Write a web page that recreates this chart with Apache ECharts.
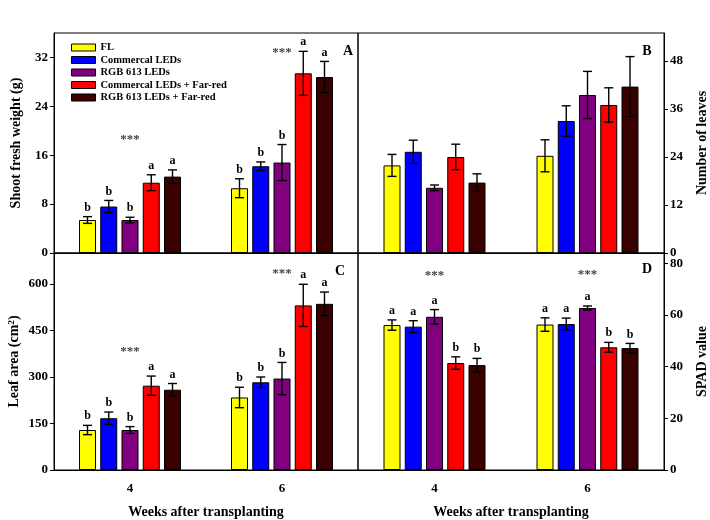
<!DOCTYPE html>
<html>
<head>
<meta charset="utf-8">
<script src="https://cdn.jsdelivr.net/npm/echarts@6/dist/echarts.min.js"></script>
<style>html,body{margin:0;padding:0;background:#fff;}#c{width:710px;height:520px;}</style>
</head>
<body>
<div id="c"></div>
<script>
const weeks = ['4', '6'];
const treatments = ['FL', 'Commercal LEDs', 'RGB 613 LEDs', 'Commercal LEDs + Far-red', 'RGB 613 LEDs + Far-red'];
const colors = ['#ffff00', '#0000ff', '#800080', '#ff0000', '#3a0000'];

// Panel A: shoot fresh weight (g) — rows: treatment, cols: week 4, week 6
const fwMean = [[5.4, 10.6], [7.6, 14.2], [5.4, 14.8], [11.5, 29.4], [12.5, 28.8]];
const fwErr = [[0.55, 1.55], [1.0, 0.7], [0.45, 2.95], [1.3, 3.6], [1.1, 2.55]];
const fwLetters = [['b', 'b'], ['b', 'b'], ['b', 'b'], ['a', 'a'], ['a', 'a']];
const fwStars = [18.6, 32.8];
const fwTicks = [0, 8, 16, 24, 32];

// Panel B: number of leaves
const nlMean = [[21.9, 24.3], [25.3, 33.0], [16.3, 39.5], [24.0, 37.0], [17.6, 41.6]];
const nlErr = [[2.75, 4.0], [2.9, 3.8], [0.7, 5.9], [3.2, 4.3], [2.2, 7.5]];
const nlTicks = [0, 12, 24, 36, 48];

// Panel C: leaf area (cm2)
const laMean = [[129, 234], [167, 283], [129, 295], [272, 531], [259, 536]];
const laErr = [[15, 33], [20, 17], [11, 52], [31, 68], [20, 38]];
const laLetters = [['b', 'b'], ['b', 'b'], ['b', 'b'], ['a', 'a'], ['a', 'a']];
const laStars = [382, 635];
const laTicks = [0, 150, 300, 450, 600];

// Panel D: SPAD value
const spMean = [[56.1, 56.3], [55.5, 56.5], [59.3, 62.7], [41.4, 47.5], [40.6, 47.2]];
const spErr = [[2.0, 2.6], [2.3, 2.3], [2.8, 0.8], [2.4, 1.9], [2.6, 1.8]];
const spLetters = [['a', 'a'], ['a', 'a'], ['a', 'a'], ['b', 'b'], ['b', 'b']];
const spStars = [75.3, 75.5];
const spTicks = [0, 20, 40, 60, 80];

const FONT = '"Liberation Serif", "Times New Roman", serif';
const BAR_W = 17, BAR_GAP = 0.25, BAR_STEP = BAR_W * (1 + BAR_GAP);

const panels = [
  {mean: fwMean, err: fwErr, letters: fwLetters, stars: fwStars, ticks: fwTicks, max: 36, pos: 'left',
   name: 'Shoot fresh weight (g)', label: 'A'},
  {mean: nlMean, err: nlErr, letters: null, stars: null, ticks: nlTicks, max: 55, pos: 'right',
   name: 'Number of leaves', label: 'B'},
  {mean: laMean, err: laErr, letters: laLetters, stars: laStars, ticks: laTicks, max: 700, pos: 'left',
   name: 'Leaf area (cm{sup|2})', label: 'C'},
  {mean: spMean, err: spErr, letters: spLetters, stars: spStars, ticks: spTicks, max: 84, pos: 'right',
   name: 'SPAD value', label: 'D'}
];

const grids = [
  {left: 54, top: 33, width: 304, height: 220},
  {left: 358, top: 33, width: 307, height: 220},
  {left: 54, top: 253, width: 304, height: 220},
  {left: 358, top: 253, width: 307, height: 220}
].map(g => Object.assign(g, {show: true, borderColor: '#000', borderWidth: 1, backgroundColor: 'transparent'}));

const xAxes = grids.map((g, p) => ({
  type: 'category', gridIndex: p, data: weeks,
  axisLine: {show: true, lineStyle: {color: '#000', width: 1}},
  axisTick: {show: false},
  axisLabel: {show: p >= 2, color: '#000', fontFamily: FONT, fontWeight: 'bold', fontSize: 13, margin: 12},
  name: p >= 2 ? 'Weeks after transplanting' : '',
  nameLocation: 'middle', nameGap: 35,
  nameTextStyle: {color: '#000', fontFamily: FONT, fontWeight: 'bold', fontSize: 14}
}));

const yAxes = panels.map((pn, p) => ({
  type: 'value', gridIndex: p, min: 0, max: pn.max, position: pn.pos,
  axisLine: {show: true, lineStyle: {color: '#000', width: 1}},
  axisTick: {show: true, length: 4, lineStyle: {color: '#000'}, customValues: pn.ticks},
  axisLabel: {color: '#000', fontFamily: FONT, fontWeight: 'bold', fontSize: 13, margin: 6, customValues: pn.ticks},
  splitLine: {show: false},
  name: pn.name, nameLocation: 'middle', nameRotate: 90,
  nameGap: pn.pos === 'left' ? 31 : 31,
  nameTextStyle: {color: '#000', fontFamily: FONT, fontWeight: 'bold', fontSize: 14,
    rich: {sup: {fontFamily: FONT, fontWeight: 'bold', fontSize: 9, verticalAlign: 'top', lineHeight: 10, padding: [0, 0, 8, 0]}}}
}));

const series = [];
panels.forEach((pn, p) => {
  treatments.forEach((t, i) => {
    series.push({
      type: 'bar', name: t, xAxisIndex: p, yAxisIndex: p,
      data: pn.mean[i], barWidth: BAR_W, barGap: (BAR_GAP * 100) + '%',
      itemStyle: {color: colors[i], borderColor: '#000', borderWidth: 1},
      emphasis: {disabled: true}, animation: false
    });
  });
  const errData = [], letterList = [];
  treatments.forEach((t, i) => {
    weeks.forEach((w, k) => {
      errData.push([k, pn.mean[i][k], pn.err[i][k], i]);
      letterList.push(pn.letters ? pn.letters[i][k] : '');
    });
  });
  series.push({
    type: 'custom', xAxisIndex: p, yAxisIndex: p, data: errData, z: 10, animation: false,
    renderItem: function (params, api) {
      const cat = api.value(0), v = api.value(1), e = api.value(2), i = api.value(3);
      const off = (i - 2) * BAR_STEP;
      const top = api.coord([cat, v + e]);
      const bot = api.coord([cat, v - e]);
      const x = top[0] + off, cw = 4.5;
      const st = {stroke: '#000', lineWidth: 1.4};
      const children = [
        {type: 'line', shape: {x1: x, y1: top[1], x2: x, y2: bot[1]}, style: st},
        {type: 'line', shape: {x1: x - cw, y1: top[1], x2: x + cw, y2: top[1]}, style: st},
        {type: 'line', shape: {x1: x - cw, y1: bot[1], x2: x + cw, y2: bot[1]}, style: st}
      ];
      const letter = letterList[params.dataIndex];
      if (letter) {
        children.push({type: 'text', x: x, y: top[1] - 3,
          style: {text: letter, fill: '#000', font: 'bold 12px ' + FONT, textAlign: 'center', textVerticalAlign: 'bottom'}});
      }
      return {type: 'group', children: children};
    }
  });
  if (pn.stars) {
    series.push({
      type: 'custom', xAxisIndex: p, yAxisIndex: p, data: pn.stars.map((s, k) => [k, s]), z: 10, animation: false,
      renderItem: function (params, api) {
        const pt = api.coord([api.value(0), api.value(1)]);
        return {type: 'text', x: pt[0], y: pt[1],
          style: {text: '***', fill: '#444', font: 'bold 13px ' + FONT, textAlign: 'center', textVerticalAlign: 'middle'}};
      }
    });
  }
});

const graphics = [
  {x: 348, y: 51}, {x: 647, y: 51}, {x: 340, y: 271}, {x: 647, y: 269}
].map((g, p) => ({type: 'text', x: g.x, y: g.y, z: 20,
  style: {text: panels[p].label, fill: '#000', font: 'bold 14px ' + FONT, textAlign: 'center', textVerticalAlign: 'middle'}}));

const chart = echarts.init(document.getElementById('c'), null, {renderer: 'canvas'});
chart.setOption({
  animation: false,
  backgroundColor: '#fff',
  grid: grids,
  xAxis: xAxes,
  yAxis: yAxes,
  legend: {
    data: treatments, orient: 'vertical', left: 66, top: 37,
    itemWidth: 24, itemHeight: 7, itemGap: 1.5, icon: 'rect',
    itemStyle: {borderColor: '#000', borderWidth: 1},
    textStyle: {color: '#000', fontFamily: FONT, fontWeight: 'bold', fontSize: 10.5},
    selectedMode: false
  },
  graphic: graphics,
  series: series
});
</script>
</body>
</html>
